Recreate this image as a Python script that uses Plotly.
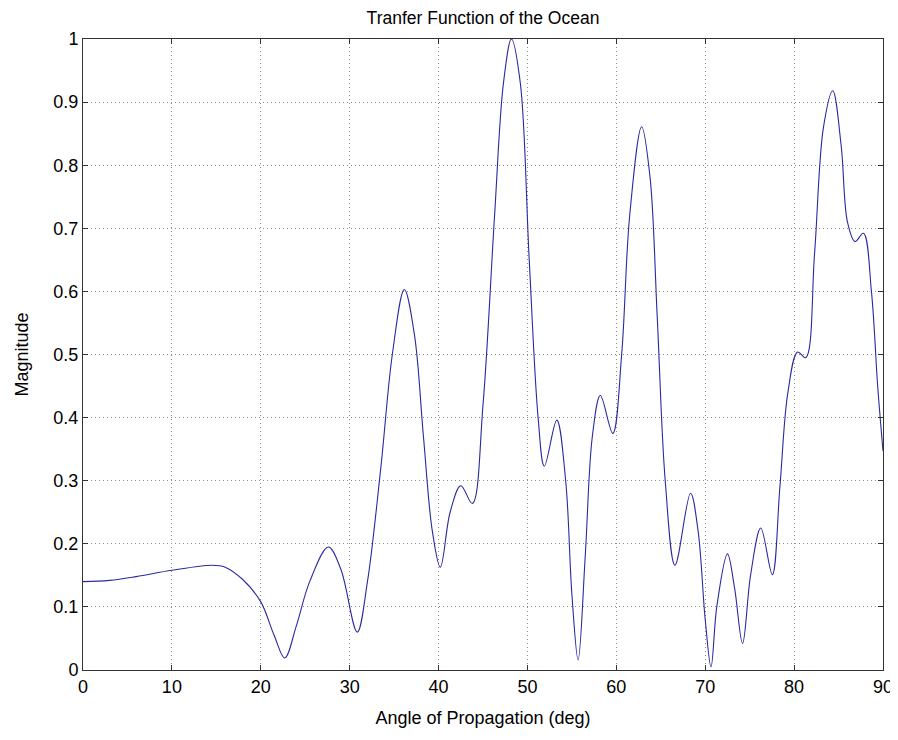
import plotly.graph_objects as go

angle_deg = [0, 3, 6, 10, 14.5, 16, 18, 20, 21.5, 22.7, 24, 25.5, 27.6, 29, 30.85,
             32, 33.5, 34.8, 36.15, 37.3, 38.3, 39.3, 40.2, 41.3, 42.5, 43.8, 45,
             46.3, 47.3, 48.2, 49.2, 50.2, 51.2, 51.9, 53.3, 54.3, 55.0, 55.7, 56.5,
             57.3, 58.2, 59.6, 60.6, 61.5, 62.85, 63.8, 64.6, 65.5, 66.6, 68.35,
             69.2, 70.0, 70.65, 71.3, 72.5, 73.3, 74.2, 75.1, 76.25, 77.55, 78.4,
             79.3, 80.4, 81.3, 82.3, 83.3, 84.35, 85.3, 86.0, 86.85, 87.8, 88.7,
             89.4, 90]
magnitude = [0.140, 0.142, 0.148, 0.158, 0.166, 0.163, 0.143, 0.108, 0.055, 0.019,
             0.070, 0.140, 0.195, 0.160, 0.060, 0.140, 0.320, 0.500, 0.603, 0.530,
             0.370, 0.220, 0.163, 0.250, 0.292, 0.264, 0.420, 0.720, 0.930, 1.000,
             0.930, 0.650, 0.400, 0.323, 0.396, 0.300, 0.120, 0.016, 0.180, 0.370,
             0.435, 0.375, 0.500, 0.720, 0.861, 0.780, 0.560, 0.300, 0.166, 0.280,
             0.220, 0.080, 0.005, 0.100, 0.184, 0.130, 0.042, 0.150, 0.225, 0.151,
             0.290, 0.440, 0.504, 0.495, 0.660, 0.860, 0.918, 0.830, 0.710, 0.679,
             0.692, 0.600, 0.450, 0.347]

x_ticks = [0, 10, 20, 30, 40, 50, 60, 70, 80, 90]
y_ticks = [0, 0.1, 0.2, 0.3, 0.4, 0.5, 0.6, 0.7, 0.8, 0.9, 1]
y_tick_labels = ["0", "0.1", "0.2", "0.3", "0.4", "0.5", "0.6", "0.7", "0.8", "0.9", "1"]

fig = go.Figure()
fig.add_trace(go.Scatter(
    x=angle_deg, y=magnitude, mode="lines",
    line=dict(color="#2a2aa0", width=1.1, shape="spline", smoothing=1.0),
    showlegend=False, hoverinfo="skip"))

font = "Liberation Sans, Arial, sans-serif"
axis_common = dict(
    showline=True, linecolor="#333333", linewidth=1, mirror="ticks",
    ticks="inside", ticklen=5, tickcolor="#333333",
    showgrid=True, gridcolor="#8a8a8a", griddash="1px,3px", gridwidth=1,
    zeroline=False, automargin=False,
    tickfont=dict(family=font, size=18, color="#000000"),
)

# The page body adds an 8px offset, so the figure is sized to fill the rest.
W, H = 890, 732
fig.update_layout(
    width=W, height=H,
    margin=dict(l=75, r=15, t=31, b=70, autoexpand=False),
    paper_bgcolor="white", plot_bgcolor="white",
    title=dict(text="Tranfer Function of the Ocean", x=475 / W, xanchor="center",
               xref="container", yref="container", y=1 - 10 / H, yanchor="middle",
               automargin=False,
               font=dict(family=font, size=17.5, color="#000000")),
    xaxis=dict(range=[0, 90], tickvals=x_ticks,
               title=dict(text="Angle of Propagation (deg)", standoff=15,
                          font=dict(family=font, size=18, color="#000000")),
               **axis_common),
    yaxis=dict(range=[0, 1], tickvals=y_ticks, ticktext=y_tick_labels,
               title=dict(text="Magnitude", standoff=20,
                          font=dict(family=font, size=18, color="#000000")),
               **axis_common),
)

fig.write_html("out.html")
